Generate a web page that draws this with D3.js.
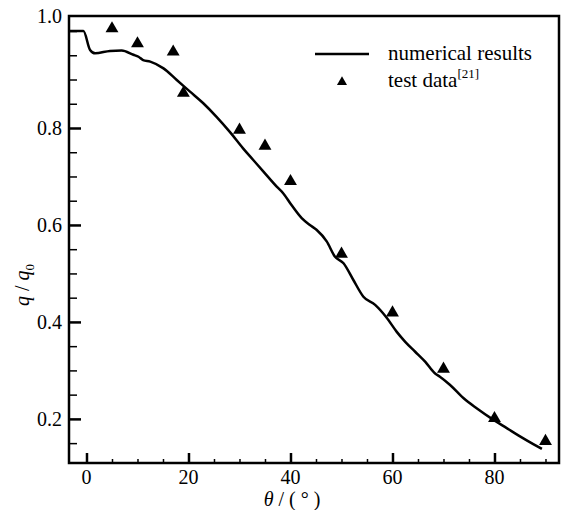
<html>
<head>
<meta charset="utf-8">
<script src="https://cdn.jsdelivr.net/npm/d3@7"></script>
</head>
<body style="margin:0">
<svg id="chart" width="561" height="510"></svg>
<script>
// Numerical heat-flux distribution q/q0 versus angle θ (degrees)
const numTheta = [-3.4, -0.6, 0.7, 1.7, 4.6, 6.9, 9.2, 10.2, 11.1, 12.5, 15.1, 17.7, 20.3, 22.9, 25.5,
  28.1, 30.7, 32.7, 34.7, 37.3, 38.6, 40.2, 42.2, 43.8, 45.1, 47.1, 48.7, 50.4, 52.3, 54.3, 56.6,
  58.9, 60.8, 62.5, 64.4, 66.4, 68.3, 69.3, 71.3, 73.9, 76.5, 79.8, 82.4, 85.0, 87.6, 89.3];
const numQ = [1.0, 1.0, 0.961, 0.954, 0.959, 0.960, 0.951, 0.947, 0.940, 0.937, 0.923, 0.899, 0.875, 0.851, 0.823,
  0.792, 0.758, 0.734, 0.710, 0.679, 0.665, 0.641, 0.614, 0.600, 0.590, 0.566, 0.535, 0.521, 0.487, 0.452, 0.435,
  0.408, 0.380, 0.359, 0.339, 0.318, 0.294, 0.287, 0.270, 0.243, 0.222, 0.198, 0.181, 0.164, 0.148, 0.138];

// Test data [21]
const testTheta = [5, 10, 17, 19, 30, 35, 40, 50, 60, 70, 80, 90];
const testQ = [1.005, 0.974, 0.957, 0.872, 0.796, 0.763, 0.690, 0.540, 0.419, 0.303, 0.201, 0.154];

// Axis ticks
const xMajorTicks = [0, 20, 40, 60, 80];
const xMinorTicks = [5, 10, 15, 25, 30, 35, 45, 50, 55, 65, 70, 75, 85, 90];
const yMajorTicks = [0.2, 0.4, 0.6, 0.8];
const yMinorTicks = [0.15, 0.25, 0.3, 0.35, 0.45, 0.5, 0.55, 0.65, 0.7, 0.75, 0.85, 0.9, 0.95, 1.0];
const yTopLabel = "1.0";

const legendLabels = ["numerical results", "test data"];
const legendRef = "[21]";

const FONT = "Liberation Serif";

const svg = d3.select("#chart");
const margin = { left: 69, top: 16, right: 2, bottom: 47 };
const W = 561 - margin.left - margin.right;
const H = 510 - margin.top - margin.bottom;

const x = d3.scaleLinear().domain([-3.43, 92.65]).range([0, W]);
const y = d3.scaleLinear().domain([0.109, 1.031]).range([H, 0]);

const g = svg.append("g").attr("transform", `translate(${margin.left},${margin.top})`);

// Minor ticks
const xMinor = d3.axisBottom(x).tickValues(xMinorTicks).tickSizeInner(-4).tickSizeOuter(0).tickFormat("");
g.append("g").attr("transform", `translate(0,${H})`).call(xMinor)
  .call(s => s.select(".domain").remove())
  .call(s => s.selectAll("text").remove())
  .call(s => s.selectAll("line").attr("stroke", "#000").attr("stroke-width", 1.5));

const yMinor = d3.axisLeft(y).tickValues(yMinorTicks).tickSizeInner(-8).tickSizeOuter(0).tickFormat("");
g.append("g").call(yMinor)
  .call(s => s.select(".domain").remove())
  .call(s => s.selectAll("text").remove())
  .call(s => s.selectAll("line").attr("stroke", "#000").attr("stroke-width", 1.5));

// Major ticks, with the labels written as plain text elements
const xMajor = d3.axisBottom(x).tickValues(xMajorTicks).tickSizeInner(-10).tickSizeOuter(0).tickFormat("");
g.append("g").attr("transform", `translate(0,${H})`).call(xMajor)
  .call(s => s.select(".domain").remove())
  .call(s => s.selectAll("text").remove())
  .call(s => s.selectAll("line").attr("stroke", "#000").attr("stroke-width", 2.5));
g.selectAll(".xlab").data(xMajorTicks).join("text")
  .attr("class", "xlab")
  .attr("font-family", FONT).attr("font-size", 20).attr("fill", "#000")
  .attr("text-anchor", "middle")
  .attr("x", d => x(d)).attr("y", H + 21)
  .text(d3.format("d"));

const yMajor = d3.axisLeft(y).tickValues(yMajorTicks).tickSizeInner(-12).tickSizeOuter(0).tickFormat("");
g.append("g").call(yMajor)
  .call(s => s.select(".domain").remove())
  .call(s => s.selectAll("text").remove())
  .call(s => s.selectAll("line").attr("stroke", "#000").attr("stroke-width", 2.5));
g.selectAll(".ylab").data(yMajorTicks).join("text")
  .attr("class", "ylab")
  .attr("font-family", FONT).attr("font-size", 20).attr("fill", "#000")
  .attr("text-anchor", "end")
  .attr("x", -7).attr("y", d => y(d) + 7)
  .text(d3.format(".1f"));

// Top label of the y axis, at the upper edge of the frame
g.append("text").attr("font-family", FONT).attr("font-size", 20)
  .attr("x", -7).attr("y", y(y.domain()[1]) + 7)
  .attr("text-anchor", "end").text(yTopLabel);

// Frame
g.append("rect").attr("x", 0).attr("y", 0).attr("width", W).attr("height", H)
  .attr("fill", "none").attr("stroke", "#000").attr("stroke-width", 2.5);

// Numerical curve
const line = d3.line().x((d, i) => x(numTheta[i])).y((d, i) => y(numQ[i])).curve(d3.curveMonotoneX);
g.append("path").datum(numQ).attr("d", line)
  .attr("fill", "none").attr("stroke", "#000").attr("stroke-width", 2.5).attr("stroke-linejoin", "round");

// Test data triangles
const tri = d3.symbol().type(d3.symbolTriangle).size(72);
g.selectAll(".tri").data(testQ).join("path")
  .attr("class", "tri")
  .attr("transform", (d, i) => `translate(${x(testTheta[i])},${y(d)})`)
  .attr("d", tri).attr("fill", "#000");

// Legend
const lg = svg.append("g");
lg.append("line").attr("x1", 315).attr("x2", 369).attr("y1", 54).attr("y2", 54)
  .attr("stroke", "#000").attr("stroke-width", 2.5);
lg.append("text").attr("font-family", FONT).attr("font-size", 21)
  .attr("x", 388).attr("y", 60).text(legendLabels[0]);
lg.append("path").attr("transform", "translate(342,82)")
  .attr("d", d3.symbol().type(d3.symbolTriangle).size(44)).attr("fill", "#000");
const t2 = lg.append("text").attr("font-family", FONT).attr("font-size", 21).attr("x", 388).attr("y", 87);
t2.append("tspan").text(legendLabels[1]);
t2.append("tspan").attr("font-size", 13).attr("dy", -9).text(legendRef);

// Axis titles
const xt = svg.append("text").attr("font-family", FONT).attr("font-size", 20)
  .attr("x", 292).attr("y", 506).attr("text-anchor", "middle");
xt.append("tspan").attr("font-style", "italic").text("θ");
xt.append("tspan").text(" / ( ° )");

const yt = svg.append("text").attr("font-family", FONT).attr("font-size", 20)
  .attr("transform", "translate(29,285) rotate(-90)").attr("text-anchor", "middle");
yt.append("tspan").attr("font-style", "italic").text("q");
yt.append("tspan").text(" / ");
yt.append("tspan").attr("font-style", "italic").text("q");
yt.append("tspan").attr("font-size", 13).attr("dy", 5).text("0");
</script>
</body>
</html>
